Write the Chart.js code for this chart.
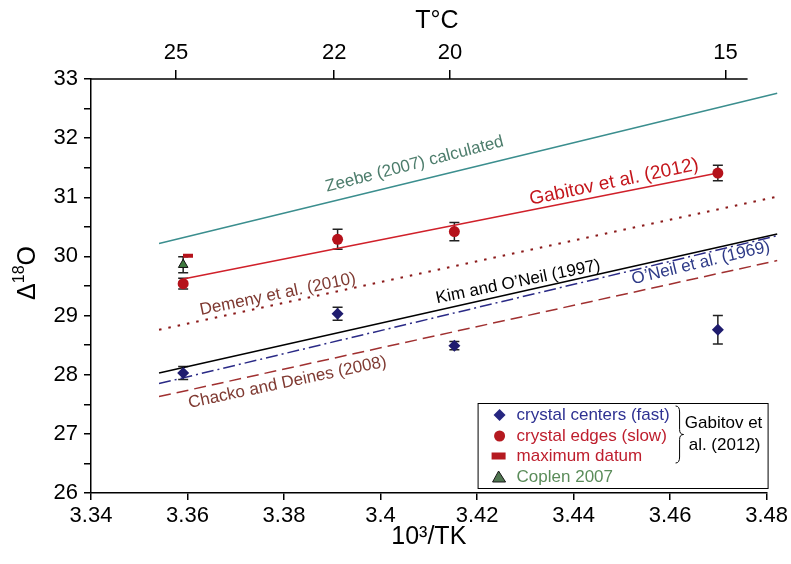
<!DOCTYPE html>
<html>
<head>
<meta charset="utf-8">
<script src="https://cdn.jsdelivr.net/npm/chart.js@4.4.1/dist/chart.umd.min.js"></script>
<style>
  html, body { margin: 0; padding: 0; background: #fff; }
</style>
</head>
<body>
<canvas id="isoChart" width="791" height="564"></canvas>
<script>
// measured samples (x = 10^3/T in K, y = Δ18O)
const sampleX = [3.3591, 3.3911, 3.4153, 3.4699];
const centersY = [28.03, 29.03, 28.49, 28.76];
const centersErr = [0.11, 0.11, 0.07, 0.24];
const edgesY = [29.54, 30.29, 30.42, 31.41];
const edgesErr = [0.09, 0.17, 0.155, 0.13];
const maxDatumX = [3.3601];
const maxDatumY = [30.01];
const coplenX = [3.3591];
const coplenY = [29.86];
const coplenErr = [0.135];

// calibration lines (25 -> 14 °C)
const lineX = [3.3541, 3.4822];
const zeebeY = [30.22, 32.76];
const demenyY = [28.76, 31.01];
const kimY = [28.03, 30.38];
const oneilY = [27.85, 30.35];
const chackoY = [27.63, 29.93];
const gabitovFitX = [3.3591, 3.4699];
const gabitovFitY = [29.62, 31.41];

// tick labels
const xTickLabels = ['3.34', '3.36', '3.38', '3.4', '3.42', '3.44', '3.46', '3.48'];
const yTickLabels = ['26', '27', '28', '29', '30', '31', '32', '33'];
const tempTicks = ['25', '22', '20', '15'];
const tempTickAt = [3.3576, 3.3904, 3.4144, 3.4715];

const FONT = "'Liberation Sans', Arial, Helvetica, sans-serif";
Chart.defaults.font.family = FONT;
Chart.defaults.color = '#000';

const pts = (xs, ys) => xs.map((x, i) => ({ x: x, y: ys[i] }));

// error bars go under the markers
const errorBars = {
    id: 'errorBars',
    beforeDatasetsDraw(chart) {
        const { ctx, scales: { x, y } } = chart;
        const sets = [[sampleX, centersY, centersErr], [sampleX, edgesY, edgesErr], [coplenX, coplenY, coplenErr]];
        ctx.save();
        ctx.strokeStyle = '#222';
        ctx.lineWidth = 1.5;
        sets.forEach(([xs, ys, es]) => {
            xs.forEach((xv, i) => {
                const px = x.getPixelForValue(xv);
                const top = y.getPixelForValue(ys[i] + es[i]);
                const bot = y.getPixelForValue(ys[i] - es[i]);
                ctx.beginPath();
                ctx.moveTo(px, top); ctx.lineTo(px, bot);
                ctx.moveTo(px - 5, top); ctx.lineTo(px + 5, top);
                ctx.moveTo(px - 5, bot); ctx.lineTo(px + 5, bot);
                ctx.stroke();
            });
        });
        ctx.restore();
    }
};

// rotated names along the lines + axis titles + legend box
const decorations = {
    id: 'decorations',
    afterDraw(chart) {
        const { ctx, chartArea: area, scales: { x, y } } = chart;
        ctx.save();

        // top axis line stops short of the right edge
        ctx.strokeStyle = '#000';
        ctx.lineWidth = 1.5;
        ctx.beginPath();
        ctx.moveTo(area.left, area.top);
        ctx.lineTo(area.right - 19, area.top);
        ctx.stroke();

        const labels = [
            { t: 'Zeebe (2007) calculated', x: 3.4073, y: 31.48, a: -14.5, c: '#4d7d6c', s: 17 },
            { t: 'Gabitov et al. (2012)', x: 3.4486, y: 31.17, a: -11.8, c: '#c4161c', s: 19 },
            { t: 'Demeny et al. (2010)', x: 3.3789, y: 29.28, a: -11.7, c: '#7f3a32', s: 17 },
            { t: 'Kim and O\u2019Neil (1997)', x: 3.4287, y: 29.49, a: -11.5, c: '#000', s: 17 },
            { t: 'O\u2019Neil et al. (1969)', x: 3.4666, y: 29.81, a: -13.5, c: '#2e3a87', s: 17 },
            { t: 'Chacko and Deines (2008)', x: 3.3809, y: 27.79, a: -11.9, c: '#7f3a32', s: 17 }
        ];
        labels.forEach(l => {
            ctx.save();
            ctx.translate(x.getPixelForValue(l.x), y.getPixelForValue(l.y));
            ctx.rotate(l.a * Math.PI / 180);
            ctx.font = l.s + 'px ' + FONT;
            ctx.fillStyle = l.c;
            ctx.textAlign = 'center';
            ctx.textBaseline = 'alphabetic';
            ctx.fillText(l.t, 0, 0);
            ctx.restore();
        });

        // top title
        ctx.fillStyle = '#000';
        ctx.font = '25px ' + FONT;
        ctx.textAlign = 'center';
        ctx.textBaseline = 'middle';
        ctx.fillText('T\u00B0C', 437, 21);

        // y title: Δ18O with raised 18
        ctx.save();
        ctx.translate(26, 273);
        ctx.rotate(-Math.PI / 2);
        ctx.textAlign = 'left';
        ctx.textBaseline = 'alphabetic';
        const big = '25px ' + FONT, small = '16px ' + FONT;
        ctx.font = big; const wD = ctx.measureText('\u0394').width, wO = ctx.measureText('O').width;
        ctx.font = small; const w18 = ctx.measureText('18').width;
        let sx = -(wD + w18 + wO) / 2;
        ctx.font = big; ctx.fillText('\u0394', sx, 9); sx += wD;
        ctx.font = small; ctx.fillText('18', sx, -2); sx += w18;
        ctx.font = big; ctx.fillText('O', sx, 9);
        ctx.restore();

        // legend
        const bx0 = area.right - 289, by0 = area.bottom - 90, bx1 = area.right + 1, by1 = area.bottom - 5;
        ctx.lineWidth = 1;
        ctx.strokeStyle = '#000';
        ctx.fillStyle = '#fff';
        ctx.fillRect(bx0, by0, bx1 - bx0, by1 - by0);
        ctx.strokeRect(bx0 + 0.5, by0 + 0.5, bx1 - bx0, by1 - by0);

        const mx = bx0 + 22, tx = bx0 + 39;
        const rows = [by0 + 12, by0 + 33, by0 + 53, by0 + 74];
        // diamond
        ctx.fillStyle = '#262680';
        ctx.beginPath();
        ctx.moveTo(mx, rows[0] - 6); ctx.lineTo(mx + 6, rows[0]); ctx.lineTo(mx, rows[0] + 6); ctx.lineTo(mx - 6, rows[0]);
        ctx.closePath(); ctx.fill();
        // circle
        ctx.fillStyle = '#b51a20';
        ctx.beginPath(); ctx.arc(mx, rows[1], 5.5, 0, Math.PI * 2); ctx.fill();
        // bar
        ctx.fillRect(mx - 8, rows[2] - 3.5, 14, 7);
        // triangle
        ctx.fillStyle = '#4f7550';
        ctx.beginPath();
        ctx.moveTo(mx - 1, rows[3] - 6); ctx.lineTo(mx + 6, rows[3] + 5); ctx.lineTo(mx - 7, rows[3] + 5);
        ctx.closePath(); ctx.fill();
        ctx.strokeStyle = '#1a1a1a'; ctx.stroke();

        ctx.font = '17px ' + FONT;
        ctx.textAlign = 'left';
        ctx.textBaseline = 'middle';
        const names = ['crystal centers (fast)', 'crystal edges (slow)', 'maximum datum', 'Coplen 2007'];
        const cols = ['#2e3192', '#be1e2d', '#be1e2d', '#5b8c5a'];
        names.forEach((n, i) => { ctx.fillStyle = cols[i]; ctx.fillText(n, tx, rows[i]); });

        // brace + group name
        const bx = bx0 + 198, ya = by0 + 3, yb = by0 + 60, ym = (ya + yb) / 2;
        ctx.strokeStyle = '#000';
        ctx.lineWidth = 1;
        ctx.beginPath();
        ctx.moveTo(bx, ya);
        ctx.quadraticCurveTo(bx + 4, ya, bx + 4, ya + 6);
        ctx.lineTo(bx + 4, ym - 5);
        ctx.quadraticCurveTo(bx + 4, ym, bx + 8, ym);
        ctx.quadraticCurveTo(bx + 4, ym, bx + 4, ym + 5);
        ctx.lineTo(bx + 4, yb - 6);
        ctx.quadraticCurveTo(bx + 4, yb, bx, yb);
        ctx.stroke();
        ctx.fillStyle = '#000';
        ctx.textAlign = 'center';
        ctx.fillText('Gabitov et', bx0 + 246, by0 + 20);
        ctx.fillText('al. (2012)', bx0 + 247, by0 + 42);

        ctx.restore();
    }
};

const lineSet = (ys, color, dash, width) => ({
    type: 'line',
    data: pts(lineX, ys),
    borderColor: color,
    borderWidth: width || 1.5,
    borderDash: dash || [],
    pointRadius: 0,
    fill: false,
    clip: false
});

new Chart(document.getElementById('isoChart'), {
    type: 'scatter',
    data: {
        datasets: [
            { data: pts(sampleX, centersY), pointStyle: 'rectRot', pointRadius: 6, backgroundColor: '#1f1c6e', borderColor: '#1f1c6e', borderWidth: 0 },
            { data: pts(sampleX, edgesY), pointStyle: 'circle', pointRadius: 5.5, backgroundColor: '#b5121b', borderColor: '#b5121b', borderWidth: 0 },
            { data: pts(maxDatumX, maxDatumY), pointStyle: 'line', pointRadius: 5, borderColor: '#b5121b', borderWidth: 4 },
            { data: pts(coplenX, coplenY), pointStyle: 'triangle', pointRadius: 5.5, backgroundColor: '#3f7a3f', borderColor: '#111', borderWidth: 1 },
            { type: 'line', data: pts(gabitovFitX, gabitovFitY), borderColor: '#d0202a', borderWidth: 1.5, pointRadius: 0, fill: false },
            lineSet(zeebeY, '#3b8e8e'),
            lineSet(kimY, '#000'),
            lineSet(oneilY, '#2a2a86', [12, 4, 2, 4]),
            lineSet(demenyY, '#8b1a1a', [2.5, 7], 2),
            lineSet(chackoY, '#a03030', [12, 6])
        ]
    },
    options: {
        responsive: false,
        animation: false,
        events: [],
        layout: { padding: { left: 0, right: 23, top: 0, bottom: 0 } },
        plugins: { legend: { display: false }, tooltip: { enabled: false } },
        scales: {
            x: {
                type: 'linear', position: 'bottom', min: 3.34, max: 3.48,
                afterBuildTicks: s => { s.ticks = xTickLabels.map(v => ({ value: parseFloat(v) })); },
                afterFit: s => { s.height = 71; },
                ticks: { autoSkip: false, maxRotation: 0, padding: 3, font: { size: 22 }, callback: (v, i) => xTickLabels[i] },
                grid: { drawOnChartArea: false, drawTicks: true, tickLength: 7, color: '#000', lineWidth: 1.5 },
                border: { display: true, color: '#000', width: 1.5 },
                title: { display: true, text: '10\u00B3/TK', font: { size: 25 }, padding: { top: 0, bottom: 12 } }
            },
            xTop: {
                type: 'linear', position: 'top', min: 3.34, max: 3.48,
                afterBuildTicks: s => { s.ticks = tempTickAt.map(v => ({ value: v })); },
                afterFit: s => { s.height = 79; },
                ticks: { autoSkip: false, maxRotation: 0, padding: 4, font: { size: 22 }, callback: (v, i) => tempTicks[i] },
                grid: { drawOnChartArea: false, drawTicks: true, tickLength: 9, color: '#000', lineWidth: 1.5 },
                border: { display: false }
            },
            y: {
                type: 'linear', position: 'left', min: 26, max: 33,
                afterFit: s => { s.width = 91; },
                ticks: {
                    stepSize: 0.5, padding: 6, font: { size: 22 },
                    callback: v => (Number.isInteger(v) ? yTickLabels[v - 26] : '')
                },
                grid: { drawOnChartArea: false, drawTicks: true, tickLength: 7, color: '#000', lineWidth: 1.5 },
                border: { display: true, color: '#000', width: 1.5 }
            }
        }
    },
    plugins: [errorBars, decorations]
});
</script>
</body>
</html>
